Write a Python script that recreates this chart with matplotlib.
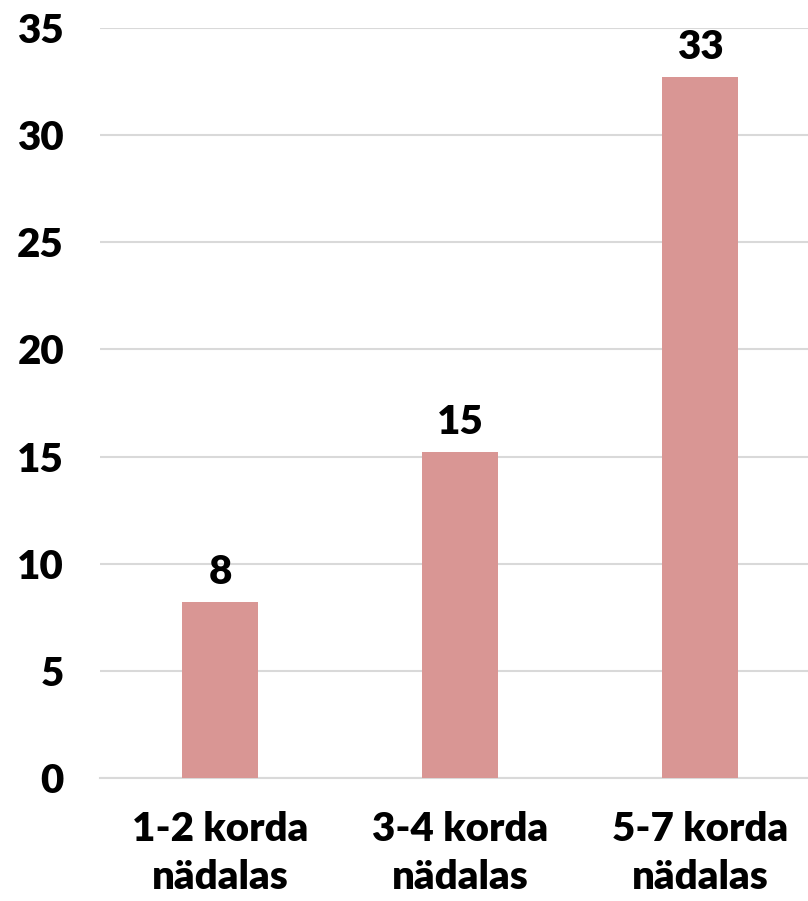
import numpy as np
import matplotlib.pyplot as plt

categories = ['1-2 korda\nnädalas', '3-4 korda\nnädalas', '5-7 korda\nnädalas']
values = [8.2, 15.2, 32.7]
value_labels = ['8', '15', '33']
yticks = [0, 5, 10, 15, 20, 25, 30, 35]

plt.rcParams['font.family'] = ['Lato', 'DejaVu Sans']

fig = plt.figure(figsize=(8.08, 9.01), dpi=100)
ax = fig.add_axes([100 / 808, 123 / 901, 720 / 808, 750 / 901])

x = np.arange(len(categories))
bars = ax.bar(x, values, width=0.315, color='#D99694', zorder=3)

for b, lab in zip(bars, value_labels):
    ax.annotate(lab, (b.get_x() + b.get_width() / 2, b.get_height()),
                xytext=(0, 8), textcoords='offset points',
                ha='center', va='bottom', fontsize=29, fontweight='heavy')

ax.set_xlim(-0.5, 2.5)
ax.set_ylim(0, 35)
ax.set_yticks(yticks)
ax.set_yticklabels([str(t) for t in yticks], fontsize=29, fontweight='heavy')
ax.set_xticks(x)
ax.set_xticklabels(categories, fontsize=29, fontweight='heavy', linespacing=1.35)
ax.tick_params(axis='y', length=0, pad=26)
ax.tick_params(axis='x', length=0, pad=24)

ax.grid(axis='y', color='#D9D9D9', linewidth=1.5, zorder=0)
for s in ['top', 'right', 'left']:
    ax.spines[s].set_visible(False)
ax.spines['bottom'].set_color('#D9D9D9')
ax.spines['bottom'].set_linewidth(1.5)

plt.savefig('out.png', dpi=100)
